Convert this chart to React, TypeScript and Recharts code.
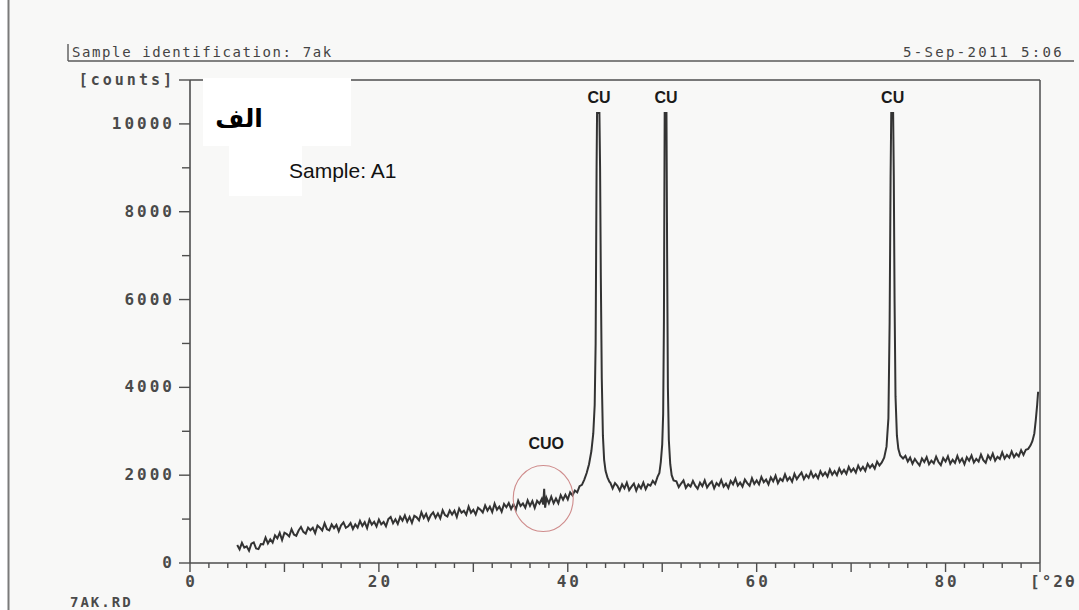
import React from 'react';
import { LineChart, Line, XAxis, YAxis, ReferenceLine, ReferenceDot } from 'recharts';

// ---- scan data: [2theta (deg), counts] ----
const lowAngleScan: [number, number][] = [
  [5.0, 410], [5.25, 310], [5.5, 460], [5.75, 350], [6.0, 380], [6.25, 280], [6.5, 440], [6.75, 470],
  [7.0, 330], [7.25, 315], [7.5, 430], [7.75, 425], [8.0, 580], [8.25, 445], [8.5, 540], [8.75, 465],
  [9.0, 630], [9.25, 560], [9.5, 685], [9.75, 525], [10.0, 690], [10.25, 660], [10.5, 605], [10.75, 770],
  [11.0, 650], [11.25, 620], [11.5, 740], [11.75, 820], [12.0, 710], [12.25, 670], [12.5, 805], [12.75, 745],
  [13.0, 800], [13.25, 680], [13.5, 855], [13.75, 805], [14.0, 740], [14.25, 905], [14.5, 770], [14.75, 745],
  [15.0, 880], [15.25, 795], [15.5, 870], [15.75, 725], [16.0, 860], [16.25, 925], [16.5, 800], [16.75, 835],
  [17.0, 910], [17.25, 775], [17.5, 880], [17.75, 805], [18.0, 960], [18.25, 845], [18.5, 930], [18.75, 795],
  [19.0, 990], [19.25, 875], [19.5, 940], [19.75, 835], [20.0, 990], [20.25, 880], [20.5, 935], [20.75, 835],
  [21.0, 1000], [21.25, 1050], [21.5, 905], [21.75, 995], [22.0, 890], [22.25, 1050], [22.5, 965], [22.75, 1085],
  [23.0, 940], [23.25, 1050], [23.5, 915], [23.75, 1075], [24.0, 1040], [24.25, 970], [24.5, 1155], [24.75, 1025],
  [25.0, 1120], [25.25, 975], [25.5, 1090], [25.75, 1155], [26.0, 1030], [26.25, 1130], [26.5, 1015], [26.75, 1200],
  [27.0, 1090], [27.25, 1060], [27.5, 1195], [27.75, 1105], [28.0, 1190], [28.25, 1045], [28.5, 1240], [28.75, 1145],
  [29.0, 1190], [29.25, 1100], [29.5, 1285], [29.75, 1145], [30.0, 1210], [30.25, 1105], [30.5, 1260], [30.75, 1215],
  [31.0, 1150], [31.25, 1310], [31.5, 1195], [31.75, 1285], [32.0, 1160], [32.25, 1350], [32.5, 1215], [32.75, 1285],
  [33.0, 1170], [33.25, 1345], [33.5, 1270], [33.75, 1365], [34.0, 1230], [34.25, 1340], [34.5, 1215], [34.75, 1420],
  [35.0, 1300], [35.25, 1355], [35.5, 1260], [35.75, 1425], [36.0, 1300], [36.25, 1410], [36.5, 1255], [36.75, 1415],
  [37.0, 1350], [37.25, 1460], [37.4, 1335], [37.5, 1690], [37.6, 1260], [37.75, 1485], [38.0, 1360], [38.25, 1510],
  [38.5, 1360], [38.75, 1470], [39.0, 1360], [39.25, 1545], [39.5, 1440], [39.75, 1555], [40.0, 1450], [40.25, 1610],
  [40.5, 1540], [40.75, 1650], [41.0, 1610], [41.25, 1750], [41.5, 1780],
];

const cu111Peak: [number, number][] = [
  [41.75, 1900], [42.0, 2050], [42.25, 2250], [42.5, 2550], [42.7, 2950], [42.85, 3600], [42.95, 5000],
  [43.05, 9000], [43.1, 10250], [43.35, 10250], [43.42, 9000], [43.5, 6500], [43.6, 4200], [43.72, 2900],
  [43.85, 2350], [44.0, 2100], [44.2, 1950], [44.4, 1850],
];

const plateauScan: [number, number][] = [
  [44.5, 1830], [44.75, 1700], [45.0, 1820], [45.25, 1760], [45.5, 1650], [45.75, 1790], [46.0, 1700],
  [46.25, 1830], [46.5, 1660], [46.75, 1740], [47.0, 1810], [47.25, 1650], [47.5, 1780], [47.75, 1700],
  [48.0, 1830], [48.25, 1680], [48.5, 1790], [48.75, 1760], [49.0, 1870], [49.25, 1800], [49.5, 1960],
];

const cu200Peak: [number, number][] = [
  [49.7, 2050], [49.85, 2300], [50.0, 2700], [50.1, 3400], [50.18, 5500], [50.26, 10250], [50.45, 10250],
  [50.52, 7000], [50.6, 4000], [50.7, 2800], [50.85, 2250], [51.0, 2000], [51.2, 1880],
];

const midScan: [number, number][] = [
  [51.5, 1860], [51.75, 1730], [52.0, 1810], [52.25, 1880], [52.5, 1710], [52.75, 1790], [53.0, 1740], [53.25, 1870],
  [53.5, 1760], [53.75, 1690], [54.0, 1830], [54.25, 1750], [54.5, 1880], [54.75, 1720], [55.0, 1800], [55.25, 1860],
  [55.5, 1700], [55.75, 1820], [56.0, 1760], [56.25, 1890], [56.5, 1740], [56.75, 1810], [57.0, 1710], [57.25, 1870],
  [57.5, 1790], [57.75, 1920], [58.0, 1760], [58.25, 1830], [58.5, 1740], [58.75, 1900], [59.0, 1820], [59.25, 1760],
  [59.5, 1930], [59.75, 1800], [60.0, 1880], [60.25, 1790], [60.5, 1960], [60.75, 1840], [61.0, 1900], [61.25, 1790],
  [61.5, 1950], [61.75, 1860], [62.0, 1990], [62.25, 1820], [62.5, 1920], [62.75, 1870], [63.0, 2020], [63.25, 1880],
  [63.5, 1950], [63.75, 1850], [64.0, 2030], [64.25, 1910], [64.5, 1990], [64.75, 2060], [65.0, 1910], [65.25, 2010],
  [65.5, 1940], [65.75, 2080], [66.0, 1950], [66.25, 2020], [66.5, 1930], [66.75, 2090], [67.0, 1990], [67.25, 2060],
  [67.5, 1970], [67.75, 2130], [68.0, 2010], [68.25, 2090], [68.5, 2000], [68.75, 2150], [69.0, 2040], [69.25, 2120],
  [69.5, 2030], [69.75, 2190], [70.0, 2080], [70.25, 2150], [70.5, 2060], [70.75, 2220], [71.0, 2110], [71.25, 2190],
  [71.5, 2100], [71.75, 2260], [72.0, 2170], [72.25, 2240], [72.5, 2150], [72.75, 2310], [73.0, 2220], [73.25, 2290],
];

const cu220Peak: [number, number][] = [
  [73.5, 2400], [73.75, 2650], [73.95, 3300], [74.08, 5500], [74.18, 8800], [74.25, 10250], [74.45, 10250],
  [74.52, 8800], [74.6, 6000], [74.7, 3800], [74.85, 2900], [75.0, 2600], [75.2, 2450], [75.5, 2380],
];

const highAngleScan: [number, number][] = [
  [75.75, 2440], [76.0, 2310], [76.25, 2400], [76.5, 2260], [76.75, 2370], [77.0, 2290], [77.25, 2220], [77.5, 2380],
  [77.75, 2300], [78.0, 2410], [78.25, 2250], [78.5, 2330], [78.75, 2270], [79.0, 2420], [79.25, 2300], [79.5, 2230],
  [79.75, 2390], [80.0, 2310], [80.25, 2430], [80.5, 2260], [80.75, 2350], [81.0, 2280], [81.25, 2440], [81.5, 2300],
  [81.75, 2380], [82.0, 2250], [82.25, 2410], [82.5, 2330], [82.75, 2450], [83.0, 2290], [83.25, 2370], [83.5, 2310],
  [83.75, 2470], [84.0, 2340], [84.25, 2280], [84.5, 2450], [84.75, 2360], [85.0, 2490], [85.25, 2330], [85.5, 2420],
  [85.75, 2370], [86.0, 2520], [86.25, 2380], [86.5, 2460], [86.75, 2400], [87.0, 2540], [87.25, 2410], [87.5, 2490],
  [87.75, 2430], [88.0, 2570], [88.25, 2460], [88.5, 2580], [88.75, 2600], [89.0, 2680], [89.2, 2780], [89.4, 2950],
  [89.55, 3250], [89.7, 3600], [89.8, 3900],
];

// ---- axes ----
const xTicks = [0, 2, 4, 6, 8, 10, 12, 14, 16, 18, 20, 22, 24, 26, 28, 30, 32, 34, 36, 38, 40, 42, 44, 46, 48, 50,
  52, 54, 56, 58, 60, 62, 64, 66, 68, 70, 72, 74, 76, 78, 80, 82, 84, 86, 88, 90];
const xLabels = [0, 20, 40, 60, 80];
const xUnitLabel = '[°2θ';
const yTicks = [0, 1000, 2000, 3000, 4000, 5000, 6000, 7000, 8000, 9000, 10000, 11000];
const yLabels = [0, 2000, 4000, 6000, 8000, 10000];
const yUnitLabel = '[counts]';

// ---- annotations ----
const peakLabels = [
  { angle: 43.3, counts: 10250, text: 'CU' },
  { angle: 50.4, counts: 10250, text: 'CU' },
  { angle: 74.4, counts: 10250, text: 'CU' },
];
const oxideMark = { angle: 37.4, counts: 1470, text: 'CUO' };
const headerLeft = 'Sample identification: 7ak';
const headerRight = '5-Sep-2011  5:06';
const fileName = '7AK.RD';
const panelLabel = 'الف';
const sampleLabel = 'Sample: A1';

const data = [
  ...lowAngleScan, ...cu111Peak, ...plateauScan, ...cu200Peak, ...midScan, ...cu220Peak, ...highAngleScan,
].map(([angle, counts]) => ({ angle, counts }));

const AXIS = '#4e4e4e';
const MONO = '"DejaVu Sans Mono", "Liberation Mono", monospace';
const SANS = '"Liberation Sans", Arial, sans-serif';

const tickText = {
  fontFamily: MONO,
  fontSize: 16,
  fontWeight: 700,
  fill: '#4a4a4a',
  letterSpacing: 3,
} as const;

function XTick(props: any) {
  const { x, y, payload } = props;
  const v: number = payload.value;
  const len = v % 10 === 0 ? 9 : 5;
  let label: React.ReactNode = null;
  if (xLabels.includes(v)) {
    label = (
      <text x={x + 1.5} y={y + 24} textAnchor="middle" {...tickText}>
        {v}
      </text>
    );
  } else if (v === 90) {
    label = (
      <text x={x - 10} y={y + 24} textAnchor="start" {...tickText} letterSpacing={2}>
        {xUnitLabel}
      </text>
    );
  }
  return (
    <g>
      <line x1={x} y1={y} x2={x} y2={y + len} stroke={AXIS} strokeWidth={1.4} />
      {label}
    </g>
  );
}

function YTick(props: any) {
  const { x, y, payload } = props;
  const v: number = payload.value;
  const labelled = yLabels.includes(v) || v === 11000;
  const len = labelled ? 11 : 8;
  const txt = v === 11000 ? yUnitLabel : labelled ? String(v) : null;
  return (
    <g>
      <line x1={x - len} y1={y} x2={x} y2={y} stroke={AXIS} strokeWidth={1.4} />
      {txt !== null && (
        <text x={x - 15} y={y + 5} textAnchor="end" {...tickText} fontSize={v === 11000 ? 15 : 16}>
          {txt}
        </text>
      )}
    </g>
  );
}

function PeakLabel(text: string) {
  return (props: any) => {
    const { cx, cy } = props;
    return (
      <text
        x={cx}
        y={cy - 10}
        textAnchor="middle"
        fontFamily={SANS}
        fontWeight={700}
        fontSize={16}
        fill="#1a1a1a"
      >
        {text}
      </text>
    );
  };
}

function OxideCircle(props: any) {
  const { cx, cy } = props;
  return (
    <g>
      <ellipse cx={cx} cy={cy} rx={30} ry={33} fill="none" stroke="#cf8c8c" strokeWidth={1.1} />
      <text
        x={cx + 3}
        y={cy - 49}
        textAnchor="middle"
        fontFamily={SANS}
        fontWeight={700}
        fontSize={16}
        fill="#1a1a1a"
      >
        {oxideMark.text}
      </text>
    </g>
  );
}

export default function App() {
  return (
    <div
      style={{
        position: 'absolute',
        left: 0,
        top: 0,
        width: 1079,
        height: 610,
        background: '#f8f8f7',
        overflow: 'hidden',
      }}
    >
      <LineChart
        width={1079}
        height={610}
        data={data}
        margin={{ top: 80, right: 39, bottom: 0, left: 0 }}
      >
        <XAxis
          dataKey="angle"
          type="number"
          domain={[0, 90]}
          ticks={xTicks}
          interval={0}
          height={47}
          tickSize={0}
          tickMargin={0}
          tickLine={false}
          tick={<XTick />}
          axisLine={{ stroke: AXIS, strokeWidth: 1.6 }}
        />
        <YAxis
          type="number"
          domain={[0, 11000]}
          ticks={yTicks}
          interval={0}
          width={190}
          tickSize={0}
          tickMargin={0}
          tickLine={false}
          tick={<YTick />}
          axisLine={{ stroke: AXIS, strokeWidth: 1.6 }}
          allowDataOverflow
        />
        <ReferenceLine y={11000} stroke={AXIS} strokeWidth={1.5} />
        <ReferenceLine x={90} stroke={AXIS} strokeWidth={1.5} />
        <Line
          type="linear"
          dataKey="counts"
          stroke="#333333"
          strokeWidth={2}
          dot={false}
          isAnimationActive={false}
        />
        {peakLabels.map((p, i) => (
          <ReferenceDot
            key={i}
            x={p.angle}
            y={p.counts}
            r={0}
            shape={PeakLabel(p.text)}
          />
        ))}
        <ReferenceDot x={oxideMark.angle} y={oxideMark.counts} r={30} shape={OxideCircle} />
      </LineChart>

      <svg
        width={1079}
        height={610}
        style={{ position: 'absolute', left: 0, top: 0, pointerEvents: 'none' }}
      >
        {/* scan edge */}
        <rect x={0} y={0} width={8} height={610} fill="#ffffff" />
        <line x1={8.5} y1={0} x2={8.5} y2={610} stroke="#7a7a7a" strokeWidth={2} />
        {/* header */}
        <line x1={68} y1={61} x2={1074} y2={61} stroke="#5a5a5a" strokeWidth={1.4} />
        <line x1={68} y1={44} x2={68} y2={61} stroke="#5a5a5a" strokeWidth={1.4} />
        <text x={72} y={57} fontFamily={MONO} fontSize={14} fill="#444" letterSpacing={1.6}>
          {headerLeft}
        </text>
        <text x={1064} y={57} textAnchor="end" fontFamily={MONO} fontSize={14} fill="#444" letterSpacing={2.3}>
          {headerRight}
        </text>
        <text x={70} y={607} fontFamily={MONO} fontSize={14} fontWeight={700} fill="#4a4a4a" letterSpacing={2}>
          {fileName}
        </text>
        {/* pasted white labels */}
        <rect x={203} y={78} width={148} height={68} fill="#ffffff" />
        <rect x={229} y={146} width={73} height={50} fill="#ffffff" />
        <text
          x={239}
          y={127}
          textAnchor="middle"
          fontFamily='"DejaVu Sans", sans-serif'
          fontWeight={700}
          fontSize={25}
          fill="#000"
        >
          {panelLabel}
        </text>
        <text x={289} y={178} fontFamily={SANS} fontSize={21} fill="#111">
          {sampleLabel}
        </text>
      </svg>
    </div>
  );
}
